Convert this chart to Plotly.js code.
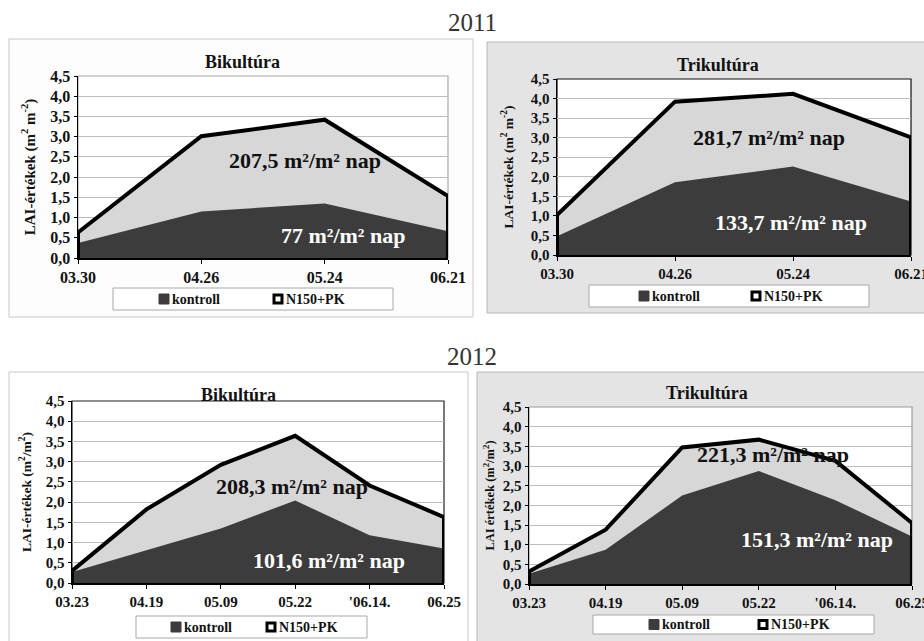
<!DOCTYPE html>
<html>
<head>
<meta charset="utf-8">
<script src="https://cdn.plot.ly/plotly-3.0.1.min.js"></script>
<style>html,body{margin:0;padding:0;background:#fff;}#chart{width:924px;height:641px;}</style>
</head>
<body>
<div id="chart"></div>
<script>
// ---- data ----
const dates2011 = ['03.30', '04.26', '05.24', '06.21'];
const bi2011_kontroll = [0.37, 1.15, 1.35, 0.66];
const bi2011_n150pk = [0.63, 3.01, 3.42, 1.53];
const tri2011_kontroll = [0.48, 1.86, 2.26, 1.37];
const tri2011_n150pk = [1.02, 3.92, 4.12, 3.01];

const dates2012 = ['03.23', '04.19', '05.09', '05.22', "'06.14.", '06.25'];
const bi2012_kontroll = [0.27, 0.81, 1.35, 2.04, 1.18, 0.85];
const bi2012_n150pk = [0.30, 1.82, 2.92, 3.64, 2.41, 1.63];
const tri2012_kontroll = [0.26, 0.87, 2.25, 2.87, 2.13, 1.21];
const tri2012_n150pk = [0.32, 1.38, 3.47, 3.67, 3.13, 1.55];

const seriesNames = ['kontroll', 'N150+PK'];
const panelTitles = ['Bikultúra', 'Trikultúra', 'Bikultúra', 'Trikultúra'];
const yearLabels = ['2011', '2012'];
const yTitles = ['LAI-értékek (m<sup>2</sup> m<sup>-2</sup>)', 'LAI-értékek (m<sup>2</sup> m<sup>-2</sup>)',
                 'LAI-értékek (m<sup>2</sup>/m<sup>2</sup>)', 'LAI értékek (m<sup>2</sup>/m<sup>2</sup>)'];
const sumN = ['207,5 m²/m² nap', '281,7 m²/m² nap', '208,3 m²/m² nap', '221,3 m²/m² nap'];
const sumK = ['77 m²/m² nap', '133,7 m²/m² nap', '101,6 m²/m² nap', '151,3 m²/m² nap'];

// ---- layout helpers ----
const W = 924, H = 641;
const px = v => v / W;
const py = v => 1 - v / H;
const FONT = 'Liberation Serif';
const LIGHT = '#d7d7d7', DARK = '#3c3c3c';

const panels = [
  {cats: dates2011, k: bi2011_kontroll, n: bi2011_n150pk, plot: [78, 448, 76, 258], box: [9, 473, 39, 317], bg: '#fdfdfd', boxLine: '#c8c8c8', border: '#a8a8a8', tick: 16, ytitle: 15,
   title: [242, 62], ytx: 11, ann: [[305, 160], [343, 235]], leg: [113, 393, 288, 310, 159, 273]},
  {cats: dates2011, k: tri2011_kontroll, n: tri2011_n150pk, plot: [557, 911, 79, 255], box: [487, 940, 42, 313], bg: '#e4e4e4', boxLine: '#b8b8b8', border: '#111111', tick: 15, ytitle: 13.5,
   title: [718, 65], ytx: 14, ann: [[769, 137], [791, 222]], leg: [589, 869, 285, 307, 639, 751]},
  {cats: dates2012, k: bi2012_kontroll, n: bi2012_n150pk, plot: [72, 444, 401, 583], box: [9, 468, 372, 660], bg: '#ffffff', boxLine: '#c8c8c8', border: '#222222', tick: 15, ytitle: 13.5,
   title: [238, 395], ytx: 11, ann: [[292, 486], [329, 560]], leg: [136, 367, 616, 638, 171, 266]},
  {cats: dates2012, k: tri2012_kontroll, n: tri2012_n150pk, plot: [529, 912, 407, 584], box: [477, 940, 372, 660], bg: '#e4e4e4', boxLine: '#b8b8b8', border: '#9a9a9a', tick: 15, ytitle: 12.5,
   title: [707, 393], ytx: 5, ann: [[773, 454], [817, 539]], leg: [593, 874, 615, 634, 649, 758]}
];

const traces = [];
const shapes = [];
const annotations = [];
const layout = {
  width: W, height: H,
  margin: {l: 0, r: 0, t: 0, b: 0},
  paper_bgcolor: '#ffffff',
  plot_bgcolor: 'rgba(0,0,0,0)',
  separators: ',.',
  showlegend: false,
  font: {family: FONT, color: '#111'}
};

panels.forEach((p, i) => {
  const s = i === 0 ? '' : String(i + 1);
  const xa = 'x' + s, ya = 'y' + s;
  // panel background
  shapes.push({type: 'rect', xref: 'paper', yref: 'paper', layer: 'below',
    x0: px(p.box[0]), x1: px(p.box[1]), y0: py(p.box[3]), y1: py(p.box[2]),
    fillcolor: p.bg, line: {color: p.boxLine, width: 1}});
  // plot area
  shapes.push({type: 'rect', xref: xa + ' domain', yref: ya + ' domain', layer: 'below',
    x0: 0, x1: 1, y0: 0, y1: 1, fillcolor: '#ffffff', line: {color: p.border, width: 1.2}});

  layout['xaxis' + s] = {
    domain: [px(p.plot[0]), px(p.plot[1])], anchor: ya, type: 'category',
    range: [0, p.cats.length - 1], showgrid: false, zeroline: false,
    showline: true, linecolor: '#000', linewidth: 1.5,
    ticks: 'outside', ticklen: 4, tickcolor: '#000',
    tickfont: {family: FONT, size: p.tick, weight: 'bold', color: '#111'}, fixedrange: true
  };
  layout['yaxis' + s] = {
    domain: [py(p.plot[3]), py(p.plot[2])], anchor: xa,
    range: [0, 4.5], dtick: 0.5, tick0: 0, tickformat: '.1f',
    showgrid: true, gridcolor: '#bdbdbd', gridwidth: 1, zeroline: false,
    showline: true, linecolor: '#000', linewidth: 1.5,
    ticks: 'outside', ticklen: 3, tickcolor: '#000',
    tickfont: {family: FONT, size: p.tick, weight: 'bold', color: '#111'},
    title: {text: yTitles[i], font: {family: FONT, size: p.ytitle, weight: 'bold', color: '#111'}, standoff: p.ytx},
    fixedrange: true
  };

  // N150+PK area
  traces.push({x: p.cats, y: p.n, xaxis: xa, yaxis: ya, type: 'scatter', mode: 'lines',
    name: seriesNames[1], fill: 'tozeroy', fillcolor: LIGHT, line: {width: 0, color: LIGHT}, hoverinfo: 'skip'});
  // kontroll area
  traces.push({x: p.cats, y: p.k, xaxis: xa, yaxis: ya, type: 'scatter', mode: 'lines',
    name: seriesNames[0], fill: 'tozeroy', fillcolor: DARK, line: {width: 0, color: DARK}, hoverinfo: 'skip'});
  // N150+PK outline (area border incl. the two ends down to the axis)
  const last = p.cats.length - 1;
  traces.push({x: [p.cats[0]].concat(p.cats, [p.cats[last]]), y: [0].concat(p.n, [0]),
    xaxis: xa, yaxis: ya, type: 'scatter', mode: 'lines', name: seriesNames[1],
    line: {width: 4, color: '#000', shape: 'linear'}, hoverinfo: 'skip'});

  // panel title
  annotations.push({xref: 'paper', yref: 'paper', x: px(p.title[0]), y: py(p.title[1]),
    text: panelTitles[i], showarrow: false, xanchor: 'center', yanchor: 'middle',
    font: {family: FONT, size: 18, weight: 'bold', color: '#111'}});
  // sums
  annotations.push({xref: 'paper', yref: 'paper', x: px(p.ann[0][0]), y: py(p.ann[0][1]),
    text: sumN[i], showarrow: false, xanchor: 'center', yanchor: 'middle',
    font: {family: FONT, size: 22, weight: 'bold', color: '#111'}});
  annotations.push({xref: 'paper', yref: 'paper', x: px(p.ann[1][0]), y: py(p.ann[1][1]),
    text: sumK[i], showarrow: false, xanchor: 'center', yanchor: 'middle',
    font: {family: FONT, size: 22, weight: 'bold', color: '#ffffff'}});

  // legend box
  const L = p.leg;
  const cy = (L[2] + L[3]) / 2;
  shapes.push({type: 'rect', xref: 'paper', yref: 'paper', layer: 'above',
    x0: px(L[0]), x1: px(L[1]), y0: py(L[3]), y1: py(L[2]), fillcolor: '#ffffff', line: {color: '#a8a8a8', width: 1}});
  shapes.push({type: 'rect', xref: 'paper', yref: 'paper', layer: 'above',
    x0: px(L[4]), x1: px(L[4] + 10), y0: py(cy + 5), y1: py(cy - 5), fillcolor: DARK, line: {color: DARK, width: 1}});
  shapes.push({type: 'rect', xref: 'paper', yref: 'paper', layer: 'above',
    x0: px(L[5] + 1), x1: px(L[5] + 9), y0: py(cy + 4), y1: py(cy - 4), fillcolor: '#ffffff', line: {color: '#000', width: 3}});
  annotations.push({xref: 'paper', yref: 'paper', x: px(L[4] + 11), y: py(cy), text: seriesNames[0],
    showarrow: false, xanchor: 'left', yanchor: 'middle',
    font: {family: FONT, size: 14, weight: 'bold', color: '#111'}});
  annotations.push({xref: 'paper', yref: 'paper', x: px(L[5] + 11), y: py(cy), text: seriesNames[1],
    showarrow: false, xanchor: 'left', yanchor: 'middle',
    font: {family: FONT, size: 14, weight: 'bold', color: '#111'}});
});

// year labels
annotations.push({xref: 'paper', yref: 'paper', x: px(473), y: py(23), text: yearLabels[0], showarrow: false,
  xanchor: 'center', yanchor: 'middle', font: {family: FONT, size: 25, color: '#333'}});
annotations.push({xref: 'paper', yref: 'paper', x: px(472), y: py(356), text: yearLabels[1], showarrow: false,
  xanchor: 'center', yanchor: 'middle', font: {family: FONT, size: 25, color: '#333'}});

layout.shapes = shapes;
layout.annotations = annotations;

Plotly.newPlot('chart', traces, layout, {displayModeBar: false, staticPlot: true});
</script>
</body>
</html>
